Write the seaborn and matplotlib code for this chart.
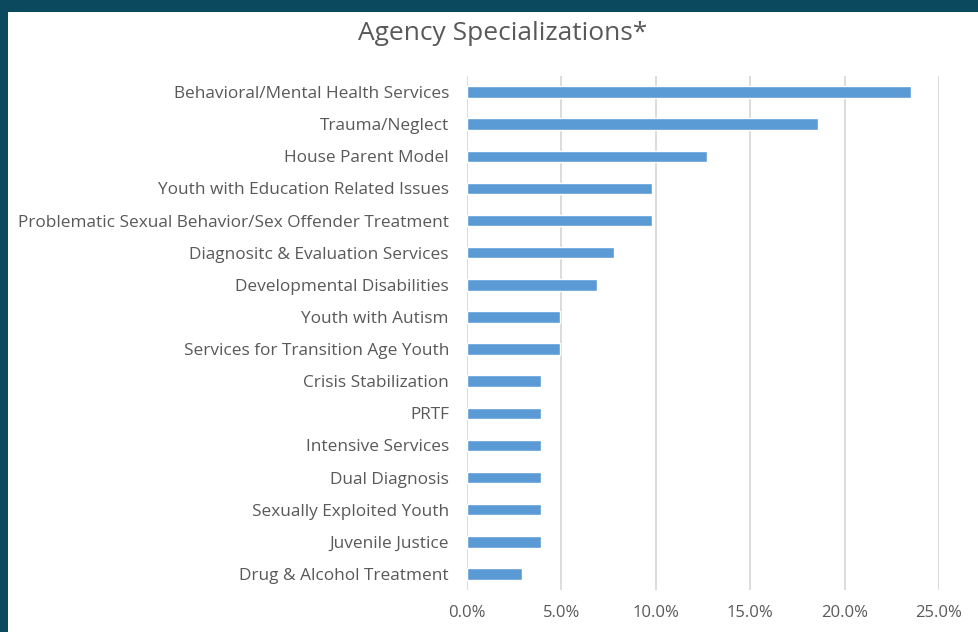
import matplotlib
matplotlib.use("Agg")
import matplotlib.pyplot as plt
import matplotlib.patches as mpatches
from matplotlib.ticker import PercentFormatter
import seaborn as sns
import pandas as pd

categories = [
    "Behavioral/Mental Health Services",
    "Trauma/Neglect",
    "House Parent Model",
    "Youth with Education Related Issues",
    "Problematic Sexual Behavior/Sex Offender Treatment",
    "Diagnositc & Evaluation Services",
    "Developmental Disabilities",
    "Youth with Autism",
    "Services for Transition Age Youth",
    "Crisis Stabilization",
    "PRTF",
    "Intensive Services",
    "Dual Diagnosis",
    "Sexually Exploited Youth",
    "Juvenile Justice",
    "Drug & Alcohol Treatment",
]
values = [23.5, 18.6, 12.7, 9.8, 9.8, 7.8, 6.9, 4.9, 4.9, 3.9, 3.9, 3.9, 3.9, 3.9, 3.9, 2.9]
x_ticks = [0, 5, 10, 15, 20, 25]
title = "Agency Specializations*"

sns.set_theme(style="white")
plt.rcParams["font.family"] = ["Open Sans", "DejaVu Sans"]

W, H = 979, 632
fig = plt.figure(figsize=(W / 100, H / 100), dpi=100)
fig.patch.set_facecolor("white")
teal = "#0B4A5E"
fig.patches.append(mpatches.Rectangle((0, 1 - 12 / H), 1, 12 / H, transform=fig.transFigure,
                                      facecolor=teal, edgecolor="none", zorder=-1))
fig.patches.append(mpatches.Rectangle((0, 0), 8 / W, 1, transform=fig.transFigure,
                                      facecolor=teal, edgecolor="none", zorder=-1))

ax = fig.add_axes([467 / W, 1 - 590 / H, (939 - 467) / W, (590 - 76) / H])
ax.set_facecolor("white")
df = pd.DataFrame({"cat": categories, "val": values})
sns.barplot(data=df, y="cat", x="val", orient="h", color="#5B9BD5", width=0.36,
            saturation=1, ax=ax, zorder=3)

ax.set_xlim(0, 25)
ax.set_xticks(x_ticks)
ax.xaxis.set_major_formatter(PercentFormatter(100, decimals=1))
ax.grid(axis="x", color="#D9D9D9", linewidth=1.3, zorder=0)
ax.grid(axis="y", visible=False)
for s in ax.spines.values():
    s.set_visible(False)
ax.set_xlabel("")
ax.set_ylabel("")
ax.tick_params(axis="both", length=0, labelsize=12, labelcolor="#595959")
ax.tick_params(axis="y", labelsize=12.4, pad=13)
ax.tick_params(axis="x", pad=11)

fig.text(503 / W, 1 - 34 / H, title, ha="center", va="center", fontsize=19, color="#595959")

fig.savefig("out.png", dpi=100, facecolor=fig.get_facecolor())
